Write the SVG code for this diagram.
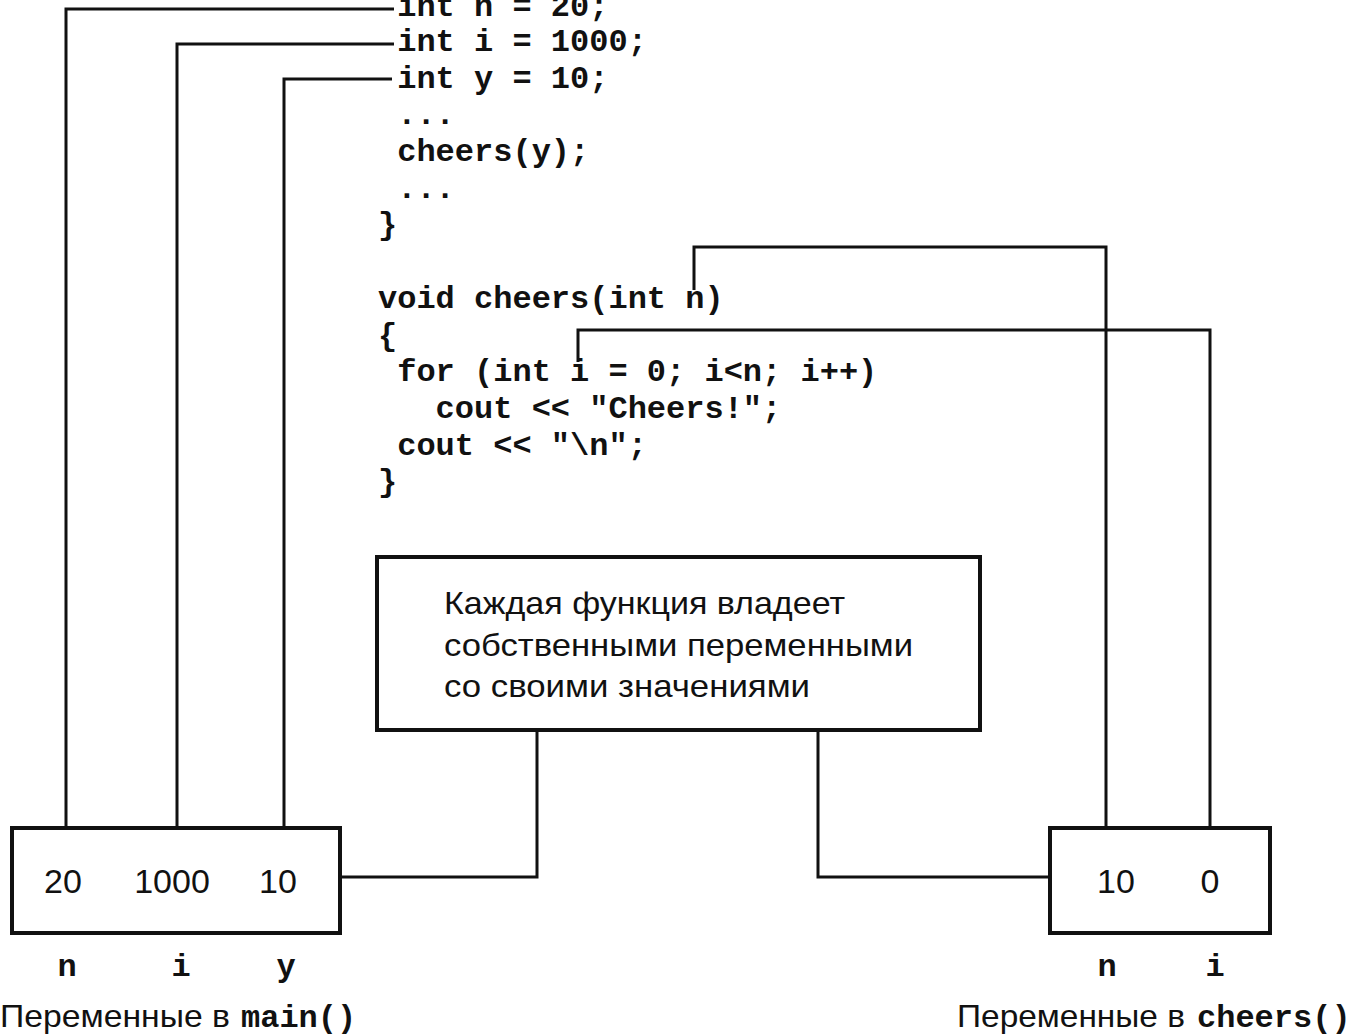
<svg xmlns="http://www.w3.org/2000/svg" width="1351" height="1035" viewBox="0 0 1351 1035">
<style>
.code{font-family:"Liberation Mono","DejaVu Sans Mono",monospace;font-weight:bold;font-size:32px;fill:#111;white-space:pre}
.sans{font-family:"Liberation Sans","DejaVu Sans",sans-serif;font-size:32px;fill:#111}
.num{font-family:"Liberation Sans","DejaVu Sans",sans-serif;font-size:34px;fill:#111}
.box{fill:#fff;stroke:#111;stroke-width:4}
.wire{fill:none;stroke:#111;stroke-width:3}
</style>
<rect width="1351" height="1035" fill="#fff"/>
<g id="connectors">
<polyline class="wire" points="66,828 66,9 394,9"/>
<polyline class="wire" points="177,828 177,44 394,44"/>
<polyline class="wire" points="284,828 284,79 392,79"/>
<polyline class="wire" points="694,290 694,247 1106,247 1106,828"/>
<polyline class="wire" points="578,362 578,330 1210,330 1210,828"/>
<polyline class="wire" points="537,730 537,877 340,877"/>
<polyline class="wire" points="818,730 818,877 1050,877"/>
</g>
<g id="code">
<text class="code" x="378" y="16" xml:space="preserve"> int n = 20;</text>
<text class="code" x="378" y="51" xml:space="preserve"> int i = 1000;</text>
<text class="code" x="378" y="88" xml:space="preserve"> int y = 10;</text>
<text class="code" x="378" y="124" xml:space="preserve"> ...</text>
<text class="code" x="378" y="161" xml:space="preserve"> cheers(y);</text>
<text class="code" x="378" y="198" xml:space="preserve"> ...</text>
<text class="code" x="378" y="234" xml:space="preserve">}</text>
<text class="code" x="378" y="308" xml:space="preserve">void cheers(int n)</text>
<text class="code" x="378" y="345" xml:space="preserve">{</text>
<text class="code" x="378" y="381" xml:space="preserve"> for (int i = 0; i&lt;n; i++)</text>
<text class="code" x="378" y="418" xml:space="preserve">   cout &lt;&lt; "Cheers!";</text>
<text class="code" x="378" y="455" xml:space="preserve"> cout &lt;&lt; "\n";</text>
<text class="code" x="378" y="491" xml:space="preserve">}</text>
</g>
<g id="note">
<rect class="box" x="377" y="557" width="603" height="173"/>
<text class="sans" x="444" y="614" textLength="401" lengthAdjust="spacingAndGlyphs">Каждая функция владеет</text>
<text class="sans" x="444" y="656" textLength="469" lengthAdjust="spacingAndGlyphs">собственными переменными</text>
<text class="sans" x="444" y="697" textLength="366" lengthAdjust="spacingAndGlyphs">со своими значениями</text>
</g>
<g id="main-vars">
<rect class="box" x="12" y="828" width="328" height="105"/>
<text class="num" x="63" y="893" text-anchor="middle">20</text>
<text class="num" x="172" y="893" text-anchor="middle">1000</text>
<text class="num" x="278" y="893" text-anchor="middle">10</text>
<text class="code" x="67" y="976" text-anchor="middle">n</text>
<text class="code" x="181" y="976" text-anchor="middle">i</text>
<text class="code" x="286" y="976" text-anchor="middle">y</text>
<text x="0" y="1027"><tspan class="sans" textLength="230" lengthAdjust="spacingAndGlyphs">Переменные в</tspan><tspan class="code" x="241">main()</tspan></text>
</g>
<g id="cheers-vars">
<rect class="box" x="1050" y="828" width="220" height="105"/>
<text class="num" x="1116" y="893" text-anchor="middle">10</text>
<text class="num" x="1210" y="893" text-anchor="middle">0</text>
<text class="code" x="1107" y="976" text-anchor="middle">n</text>
<text class="code" x="1215" y="976" text-anchor="middle">i</text>
<text x="957" y="1027"><tspan class="sans" textLength="228" lengthAdjust="spacingAndGlyphs">Переменные в</tspan><tspan class="code" x="1197">cheers()</tspan></text>
</g>
</svg>
